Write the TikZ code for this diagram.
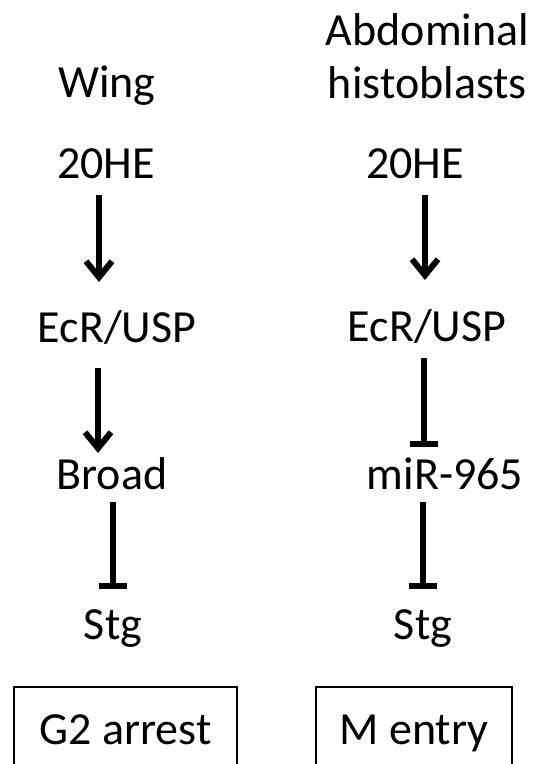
\documentclass[tikz,border=0pt]{standalone}
\usepackage{fontspec}
\setmainfont{Carlito}
\usetikzlibrary{arrows.meta}
\begin{document}
\begin{tikzpicture}[x=1pt, y=-1pt,
  lbl/.style={anchor=base, inner sep=0pt, font=\fontsize{46}{53}\selectfont},
  act/.style={-{Straight Barb[length=16pt, width=26pt]}, line width=6pt, draw=black},
  inh/.style={-{Bar[width=28pt]}, line width=6pt, draw=black},
  outbox/.style={draw=black, line width=1.6pt, minimum width=223pt, minimum height=95pt,
    text height=32pt, text depth=11.5pt, inner sep=0pt, font=\fontsize{46}{53}\selectfont}]
\useasboundingbox (0,0) rectangle (542,764);
\node[lbl] (wing) at (107, 97) {Wing};
\node[lbl, align=center] (abd) at (427.5, 98) {Abdominal\\histoblasts};
\node[lbl] (he1) at (106, 178) {20HE};
\node[lbl] (he2) at (415, 178) {20HE};
\node[lbl] (ecr1) at (117, 342) {EcR/USP};
\node[lbl] (ecr2) at (427, 341) {EcR/USP};
\node[lbl] (broad) at (112, 489) {Broad};
\node[lbl] (mir) at (445, 489) {miR-965};
\node[lbl] (stg1) at (113, 639) {Stg};
\node[lbl] (stg2) at (423, 639) {Stg};
\node[outbox] (g2) at (125.5, 734.5) {G2 arrest};
\node[outbox, minimum width=196pt] (mentry) at (414, 734.5) {M entry};
\draw [act] ([xshift=-7pt, yshift=-17pt]he1.base) -- ([xshift=-18pt, yshift=60pt]ecr1.base);
\draw [act] ([xshift=-19pt, yshift=-26pt]ecr1.base) -- ([xshift=-14pt, yshift=36pt]broad.base);
\draw [inh] ([xshift=1pt, yshift=-13pt]broad.base) -- ([yshift=50pt]stg1.base);
\draw [act] ([xshift=10pt, yshift=-17pt]he2.base) -- ([xshift=-2pt, yshift=61pt]ecr2.base);
\draw [inh] ([xshift=-3pt, yshift=-17pt]ecr2.base) -- ([xshift=-21pt, yshift=42pt]mir.base);
\draw [inh] ([xshift=-22pt, yshift=-13pt]mir.base) -- ([yshift=50pt]stg2.base);
\end{tikzpicture}
\end{document}
